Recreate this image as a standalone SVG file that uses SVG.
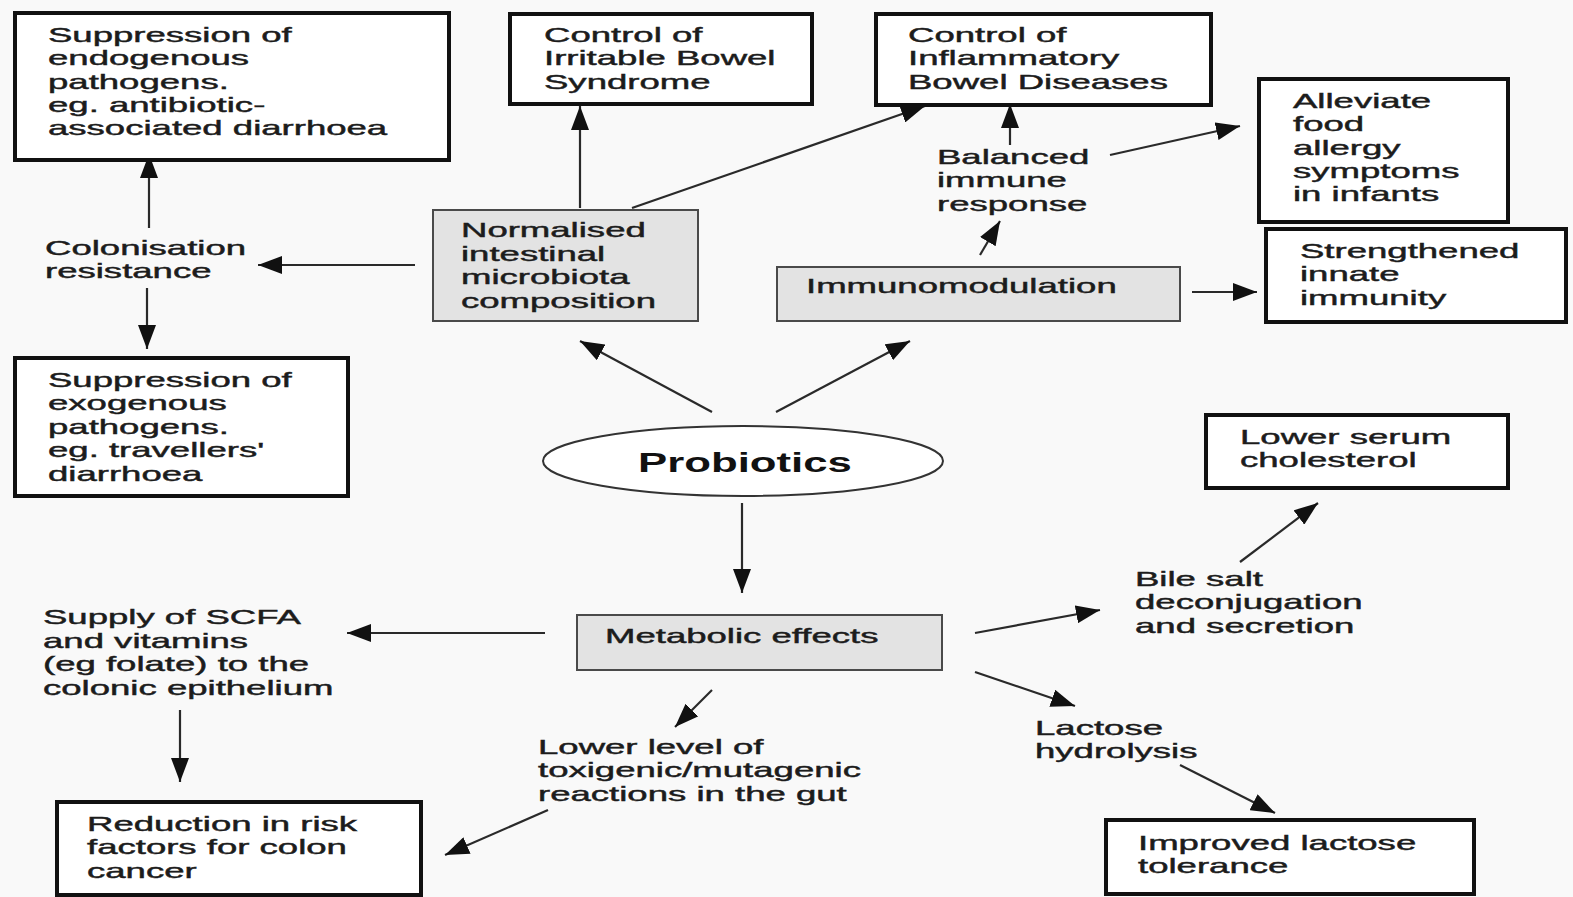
<svg xmlns="http://www.w3.org/2000/svg" width="1573" height="897" viewBox="0 0 1573 897">
<style>
.t{font-family:"Liberation Sans",Arial,Helvetica,sans-serif;font-size:21px;fill:#1c1c1c;stroke:#1c1c1c;stroke-width:0.45}
.pb{font-family:"Liberation Sans",Arial,Helvetica,sans-serif;font-size:27px;font-weight:bold;fill:#111}
.bx{fill:#fff;stroke:#111;stroke-width:4}
.gb{fill:#e3e3e3;stroke:#4a4a4a;stroke-width:2}
.c{stroke:#2a2a2a;stroke-width:2.2;fill:none;marker-end:url(#ah)}
</style>
<defs>
<marker id="ah" markerUnits="userSpaceOnUse" markerWidth="26" markerHeight="18" refX="24" refY="9" orient="auto">
<path d="M0,0 L24,9 L0,18 z" fill="#111"/>
</marker>
</defs>
<rect width="1573" height="897" fill="#f9f9f9"/>

<g id="connectors">
<line class="c" x1="149" y1="228" x2="149" y2="154"/>
<line class="c" x1="147" y1="288" x2="147" y2="349"/>
<line class="c" x1="415" y1="265" x2="258" y2="265"/>
<line class="c" x1="580" y1="208" x2="580" y2="106"/>
<line class="c" x1="632" y1="208" x2="925" y2="106"/>
<line class="c" x1="1010" y1="145" x2="1010" y2="104"/>
<line class="c" x1="1110" y1="155" x2="1240" y2="126"/>
<line class="c" x1="980" y1="255" x2="1000" y2="221"/>
<line class="c" x1="1192" y1="292" x2="1257" y2="292"/>
<line class="c" x1="712" y1="412" x2="580" y2="341"/>
<line class="c" x1="776" y1="412" x2="910" y2="341"/>
<line class="c" x1="742" y1="503" x2="742" y2="593"/>
<line class="c" x1="545" y1="633" x2="347" y2="633"/>
<line class="c" x1="180" y1="710" x2="180" y2="782"/>
<line class="c" x1="712" y1="690" x2="675" y2="727"/>
<line class="c" x1="548" y1="810" x2="445" y2="855"/>
<line class="c" x1="975" y1="633" x2="1100" y2="610"/>
<line class="c" x1="1240" y1="562" x2="1318" y2="503"/>
<line class="c" x1="975" y1="672" x2="1075" y2="706"/>
<line class="c" x1="1180" y1="765" x2="1275" y2="813"/>
</g>

<g id="endogenous">
<rect class="bx" x="15" y="13" width="434" height="147"/>
<text class="t" transform="translate(48,42) scale(1.74,1)"><tspan x="0" y="0">Suppression of</tspan><tspan x="0" dy="23.3">endogenous</tspan><tspan x="0" dy="23.3">pathogens.</tspan><tspan x="0" dy="23.3">eg. antibiotic-</tspan><tspan x="0" dy="23.3">associated diarrhoea</tspan></text>
</g>

<g id="ibs">
<rect class="bx" x="510" y="14" width="302" height="90"/>
<text class="t" transform="translate(544,42) scale(1.74,1)"><tspan x="0" y="0">Control of</tspan><tspan x="0" dy="23.5">Irritable Bowel</tspan><tspan x="0" dy="23.5">Syndrome</tspan></text>
</g>

<g id="ibd">
<rect class="bx" x="876" y="14" width="335" height="91"/>
<text class="t" transform="translate(908,42) scale(1.74,1)"><tspan x="0" y="0">Control of</tspan><tspan x="0" dy="23.5">Inflammatory</tspan><tspan x="0" dy="23.5">Bowel Diseases</tspan></text>
</g>

<g id="allergy">
<rect class="bx" x="1259" y="79" width="249" height="143"/>
<text class="t" transform="translate(1293,108) scale(1.74,1)"><tspan x="0" y="0">Alleviate</tspan><tspan x="0" dy="23.3">food</tspan><tspan x="0" dy="23.3">allergy</tspan><tspan x="0" dy="23.3">symptoms</tspan><tspan x="0" dy="23.3">in infants</tspan></text>
</g>

<g id="innate">
<rect class="bx" x="1266" y="229" width="300" height="93"/>
<text class="t" transform="translate(1300,258) scale(1.74,1)"><tspan x="0" y="0">Strengthened</tspan><tspan x="0" dy="23.5">innate</tspan><tspan x="0" dy="23.5">immunity</tspan></text>
</g>

<g id="balanced">
<text class="t" transform="translate(937,164) scale(1.74,1)"><tspan x="0" y="0">Balanced</tspan><tspan x="0" dy="23.5">immune</tspan><tspan x="0" dy="23.5">response</tspan></text>
</g>

<g id="normalised">
<rect class="gb" x="433" y="210" width="265" height="111"/>
<text class="t" transform="translate(461,237) scale(1.74,1)"><tspan x="0" y="0">Normalised</tspan><tspan x="0" dy="23.6">intestinal</tspan><tspan x="0" dy="23.6">microbiota</tspan><tspan x="0" dy="23.6">composition</tspan></text>
</g>

<g id="immunomodulation">
<rect class="gb" x="777" y="267" width="403" height="54"/>
<text class="t" transform="translate(806,293) scale(1.74,1)">Immunomodulation</text>
</g>

<g id="colonisation">
<text class="t" transform="translate(45,255) scale(1.74,1)"><tspan x="0" y="0">Colonisation</tspan><tspan x="0" dy="23.5">resistance</tspan></text>
</g>

<g id="exogenous">
<rect class="bx" x="15" y="358" width="333" height="138"/>
<text class="t" transform="translate(48,387) scale(1.74,1)"><tspan x="0" y="0">Suppression of</tspan><tspan x="0" dy="23.4">exogenous</tspan><tspan x="0" dy="23.4">pathogens.</tspan><tspan x="0" dy="23.4">eg. travellers'</tspan><tspan x="0" dy="23.4">diarrhoea</tspan></text>
</g>

<g id="probiotics">
<ellipse cx="743" cy="461" rx="200" ry="35" fill="#fff" stroke="#333" stroke-width="2"/>
<text class="pb" text-anchor="middle" transform="translate(745,472) scale(1.62,1)">Probiotics</text>
</g>

<g id="cholesterol">
<rect class="bx" x="1206" y="415" width="302" height="73"/>
<text class="t" transform="translate(1240,444) scale(1.74,1)"><tspan x="0" y="0">Lower serum</tspan><tspan x="0" dy="23.5">cholesterol</tspan></text>
</g>

<g id="bile">
<text class="t" transform="translate(1135,586) scale(1.74,1)"><tspan x="0" y="0">Bile salt</tspan><tspan x="0" dy="23.5">deconjugation</tspan><tspan x="0" dy="23.5">and secretion</tspan></text>
</g>

<g id="metabolic">
<rect class="gb" x="577" y="615" width="365" height="55"/>
<text class="t" transform="translate(605,643) scale(1.74,1)">Metabolic effects</text>
</g>

<g id="scfa">
<text class="t" transform="translate(43,624) scale(1.74,1)"><tspan x="0" y="0">Supply of SCFA</tspan><tspan x="0" dy="23.6">and vitamins</tspan><tspan x="0" dy="23.6">(eg folate) to the</tspan><tspan x="0" dy="23.6">colonic epithelium</tspan></text>
</g>

<g id="lactose">
<text class="t" transform="translate(1035,735) scale(1.74,1)"><tspan x="0" y="0">Lactose</tspan><tspan x="0" dy="23.5">hydrolysis</tspan></text>
</g>

<g id="toxigenic">
<text class="t" transform="translate(538,754) scale(1.74,1)"><tspan x="0" y="0">Lower level of</tspan><tspan x="0" dy="23.5">toxigenic/mutagenic</tspan><tspan x="0" dy="23.5">reactions in the gut</tspan></text>
</g>

<g id="coloncancer">
<rect class="bx" x="57" y="802" width="364" height="93"/>
<text class="t" transform="translate(87,831) scale(1.74,1)"><tspan x="0" y="0">Reduction in risk</tspan><tspan x="0" dy="23.5">factors for colon</tspan><tspan x="0" dy="23.5">cancer</tspan></text>
</g>

<g id="lactosetolerance">
<rect class="bx" x="1106" y="820" width="368" height="74"/>
<text class="t" transform="translate(1138,850) scale(1.74,1)"><tspan x="0" y="0">Improved lactose</tspan><tspan x="0" dy="23.5">tolerance</tspan></text>
</g>
</svg>
